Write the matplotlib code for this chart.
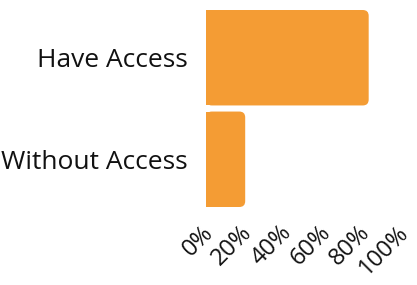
import matplotlib
matplotlib.use("Agg")
import matplotlib.pyplot as plt
import matplotlib.transforms as mtransforms
from matplotlib.patches import FancyBboxPatch

# Data
categories = ["Have Access", "Without Access"]
values = [83, 20]
xticks = [0, 20, 40, 60, 80, 100]
xtick_labels = ["0%", "20%", "40%", "60%", "80%", "100%"]

bar_color = "#F49C34"

fig = plt.figure(figsize=(4.17, 2.85), dpi=100)
ax = fig.add_axes([206 / 417, (285 - 207) / 285, 196 / 417, 197 / 285])

bar_h = 0.94
bars = ax.barh(categories, values, height=bar_h, color=bar_color)
ax.set_xlim(0, 100)
ax.set_ylim(1 + bar_h / 2, -bar_h / 2)

# rounded right corners: square part + rounded box on top
radius = 3.0  # x data units
aspect = (1.94 / 197) / (100 / 196)
for b in bars:
    x, y, w, h = b.get_x(), b.get_y(), b.get_width(), b.get_height()
    b.set_width(w - radius)
    ax.add_patch(FancyBboxPatch((x, y), w, h,
                                boxstyle=f"round,pad=0,rounding_size={radius}",
                                mutation_aspect=aspect,
                                facecolor=bar_color, edgecolor="none"))

for s in ax.spines.values():
    s.set_visible(False)
ax.tick_params(length=0)

ax.set_yticks(range(len(categories)))
ax.set_yticklabels(categories, fontsize=19, fontfamily="Open Sans", color="#111111")
ax.tick_params(axis="y", pad=13)

ax.set_xticks(xticks)
ax.set_xticklabels(xtick_labels, fontsize=17, fontfamily="Open Sans", color="#111111",
                   rotation=45, ha="right", va="top", rotation_mode="anchor")
ax.tick_params(axis="x", pad=10)

# nudge the rotated labels a little to the left
shift = mtransforms.ScaledTranslation(-5 / 100, 0, fig.dpi_scale_trans)
for lab in ax.get_xticklabels():
    lab.set_transform(lab.get_transform() + shift)

fig.savefig("out.png", dpi=100)
